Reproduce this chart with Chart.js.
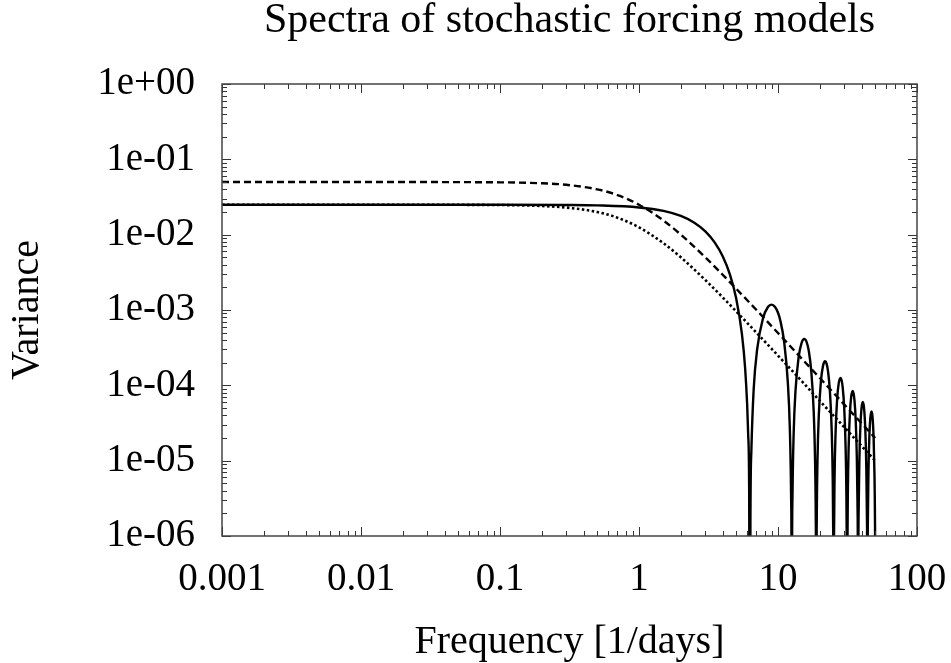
<!DOCTYPE html>
<html>
<head>
<meta charset="utf-8">
<script src="https://cdn.jsdelivr.net/npm/chart.js@4.4.1/dist/chart.umd.min.js"></script>
<style>
  html, body { margin: 0; padding: 0; background: #fff; }
  #wrap { width: 951px; height: 663px; }
</style>
</head>
<body>
<div id="wrap"><canvas id="c" width="951" height="663"></canvas></div>
<script>
// ---- data ----
const solidFreq = [
  0.001, 0.01, 0.1, 0.3, 0.5, 1, 1.5, 2, 2.5, 3, 3.5, 4, 4.5, 5, 5.5, 5.8, 6.0, 6.1, 6.2, 6.283,
  6.333, 6.433, 6.683, 7.083, 7.783, 8.483, 8.987, 9.5, 10.0, 10.366, 11.066, 11.766, 12.166, 12.416, 12.516, 12.566,
  12.616, 12.716, 12.966, 13.366, 14.066, 14.766, 15.45, 16.05, 16.65, 17.35, 18.05, 18.45, 18.70, 18.80, 18.85,
  18.90, 19.00, 19.25, 19.65, 20.35, 21.05, 21.808, 22.35, 22.933, 23.633, 24.333, 24.733, 24.983, 25.083, 25.133,
  25.183, 25.283, 25.533, 25.933, 26.633, 27.333, 28.132, 28.65, 29.216, 29.916, 30.616, 31.016, 31.266, 31.366, 31.416,
  31.466, 31.566, 31.816, 32.216, 32.916, 33.616, 34.442, 34.95, 35.499, 36.199, 36.899, 37.299, 37.549, 37.699,
  37.849, 38.099, 38.499, 39.199, 39.899, 40.742, 41.25, 41.782, 42.482, 43.182, 43.582, 43.832, 43.982,
  44.132, 44.382, 44.782, 45.482, 46.182, 47.036, 47.55, 48.066, 48.766, 49.466, 49.7, 49.9, 50.0
];
const solidVar = [
  0.025, 0.025, 0.02499, 0.02481, 0.02448, 0.02298, 0.02065, 0.01770, 0.01441, 0.01106, 0.00790, 0.005168, 0.00299, 0.001433, 4.82e-4, 1.70e-4, 5.53e-5, 2.25e-5, 4.5e-6, 1e-9,
  1.56e-6, 1.36e-5, 8.84e-5, 3.02e-4, 7.67e-4, 1.104e-3, 1.180e-3, 1.107e-3, 9.20e-4, 7.39e-4, 3.79e-4, 1.095e-4, 2.67e-5, 3.64e-6, 4.0e-7, 1e-9,
  3.93e-7, 3.47e-6, 2.348e-5, 8.49e-5, 2.348e-4, 3.642e-4, 4.12e-4, 3.769e-4, 2.865e-4, 1.544e-4, 4.655e-5, 1.16e-5, 1.606e-6, 1.77e-7, 1e-9,
  1.75e-7, 1.556e-6, 1.065e-5, 3.928e-5, 1.122e-4, 1.793e-4, 2.085e-4, 1.938e-4, 1.51e-4, 8.32e-5, 2.561e-5, 6.45e-6, 9.0e-7, 9.9e-8, 1e-9,
  9.86e-8, 8.78e-7, 6.05e-6, 2.255e-5, 6.55e-5, 1.063e-4, 1.257e-4, 1.176e-4, 9.305e-5, 5.19e-5, 1.618e-5, 4.1e-6, 5.74e-7, 6.35e-8, 1e-9,
  6.31e-8, 5.64e-7, 3.9e-6, 1.461e-5, 4.288e-5, 7.029e-5, 8.40e-5, 7.875e-5, 6.303e-5, 3.546e-5, 1.114e-5, 2.837e-6, 3.98e-7, 1e-9,
  3.92e-7, 2.719e-6, 1.023e-5, 3.024e-5, 4.989e-5, 6.01e-5, 5.634e-5, 4.55e-5, 2.575e-5, 8.13e-6, 2.078e-6, 2.92e-7, 1e-9,
  2.88e-7, 2.004e-6, 7.56e-6, 2.246e-5, 3.724e-5, 4.51e-5, 4.226e-5, 3.438e-5, 1.954e-5, 6.2e-6, 3.15e-6, 1.326e-6, 7.0e-7
];
const lorentzFreq = [0.001, 0.01, 0.1, 0.2, 0.3, 0.5, 0.7, 1, 1.5, 2, 3, 4, 5, 7, 10, 15, 20, 30, 40, 50];
const dashedVar = [0.05, 0.05, 0.0495, 0.0481, 0.0459, 0.04, 0.0336, 0.025, 0.0154, 0.01, 0.005, 0.00294, 0.00192, 0.001, 4.95e-4, 2.21e-4, 1.25e-4, 5.55e-5, 3.12e-5, 2.0e-5];
const dottedVar = [0.025, 0.025, 0.02475, 0.0240, 0.0229, 0.02, 0.0168, 0.0125, 0.0077, 0.005, 0.0025, 0.00147, 9.6e-4, 5.0e-4, 2.48e-4, 1.11e-4, 6.2e-5, 2.78e-5, 1.56e-5, 1.0e-5];

const xTickValues = [0.001, 0.01, 0.1, 1, 10, 100];
const xTickLabels = ['0.001', '0.01', '0.1', '1', '10', '100'];
const yTickValues = [1e-6, 1e-5, 1e-4, 1e-3, 1e-2, 1e-1, 1];
const yTickLabels = ['1e-06', '1e-05', '1e-04', '1e-03', '1e-02', '1e-01', '1e+00'];
const minorSteps = [2, 3, 4, 5, 6, 7, 8, 9];

const FONT = "'Liberation Serif', 'Times New Roman', 'DejaVu Serif', serif";
const toPts = (xs, ys) => xs.map((x, i) => ({x: x, y: ys[i]}));

function labelFor(values, labels, v) {
  for (let i = 0; i < values.length; i++) {
    if (Math.abs(Math.log10(v) - Math.log10(values[i])) < 1e-6) return labels[i];
  }
  return '';
}

const frameTicks = {
  id: 'frameTicks',
  afterDatasetsDraw(chart) {
    const {ctx, chartArea: a, scales: {x, y}} = chart;
    ctx.save();
    ctx.strokeStyle = '#333';
    ctx.lineWidth = 1;
    const seg = (x1, y1, x2, y2) => { ctx.beginPath(); ctx.moveTo(x1, y1); ctx.lineTo(x2, y2); ctx.stroke(); };
    xTickValues.forEach((dec, di) => {
      const mx = Math.round(x.getPixelForValue(dec)) + 0.5;
      seg(mx, a.bottom, mx, a.bottom - 9);
      seg(mx, a.top, mx, a.top + 9);
      if (di < xTickValues.length - 1) {
        minorSteps.forEach(s => {
          const p = Math.round(x.getPixelForValue(dec * s)) + 0.5;
          seg(p, a.bottom, p, a.bottom - 5);
          seg(p, a.top, p, a.top + 5);
        });
      }
    });
    yTickValues.forEach((dec, di) => {
      const py = Math.round(y.getPixelForValue(dec)) + 0.5;
      seg(a.left, py, a.left + 9, py);
      seg(a.right, py, a.right - 9, py);
      if (di < yTickValues.length - 1) {
        minorSteps.forEach(s => {
          const p = Math.round(y.getPixelForValue(dec * s)) + 0.5;
          seg(a.left, p, a.left + 5, p);
          seg(a.right, p, a.right - 5, p);
        });
      }
    });
    ctx.lineWidth = 1.5;
    ctx.strokeStyle = '#444';
    ctx.strokeRect(a.left, a.top, a.right - a.left, a.bottom - a.top);
    ctx.restore();
  }
};

new Chart(document.getElementById('c'), {
  type: 'line',
  data: {
    datasets: [
      {
        label: 'solid',
        data: toPts(solidFreq, solidVar),
        borderColor: '#000',
        borderWidth: 2.4,
        pointRadius: 0,
        cubicInterpolationMode: 'monotone',
        fill: false
      },
      {
        label: 'dashed',
        data: toPts(lorentzFreq, dashedVar),
        borderColor: '#000',
        borderWidth: 2.4,
        borderDash: [7, 4],
        pointRadius: 0,
        cubicInterpolationMode: 'monotone',
        fill: false
      },
      {
        label: 'dotted',
        data: toPts(lorentzFreq, dottedVar),
        borderColor: '#000',
        borderWidth: 2.6,
        borderDash: [2.5, 2.5],
        pointRadius: 0,
        cubicInterpolationMode: 'monotone',
        fill: false
      }
    ]
  },
  options: {
    responsive: false,
    animation: false,
    layout: { padding: { top: 0, right: 34, bottom: 0, left: 0 } },
    plugins: {
      legend: { display: false },
      tooltip: { enabled: false },
      title: {
        display: true,
        text: 'Spectra of stochastic forcing models',
        fullSize: false,
        color: '#000',
        font: { family: FONT, size: 42, weight: 'normal', lineHeight: 1 },
        padding: { top: 0, bottom: 42 }
      }
    },
    scales: {
      x: {
        type: 'logarithmic',
        min: 0.001,
        max: 100,
        grid: { display: false, drawTicks: false },
        border: { display: false },
        afterBuildTicks: (s) => { s.ticks = xTickValues.map(v => ({value: v})); },
        afterFit: (s) => { s.height = 127; s.paddingRight = 34; s.paddingLeft = 0; },
        ticks: {
          autoSkip: false,
          maxRotation: 0,
          padding: 20,
          color: '#000',
          font: { family: FONT, size: 39 },
          callback: (v) => labelFor(xTickValues, xTickLabels, v)
        },
        title: {
          display: true,
          text: 'Frequency [1/days]',
          color: '#000',
          font: { family: FONT, size: 40, lineHeight: 1 },
          padding: { top: 0, bottom: 1 }
        }
      },
      y: {
        type: 'logarithmic',
        min: 1e-6,
        max: 1,
        grid: { display: false, drawTicks: false },
        border: { display: false },
        afterBuildTicks: (s) => { s.ticks = yTickValues.map(v => ({value: v})); },
        afterFit: (s) => { s.width = 222; },
        ticks: {
          autoSkip: false,
          padding: 27,
          color: '#000',
          font: { family: FONT, size: 39 },
          callback: (v) => labelFor(yTickValues, yTickLabels, v)
        },
        title: {
          display: true,
          text: 'Variance',
          color: '#000',
          font: { family: FONT, size: 40, lineHeight: 1 },
          padding: { top: 7, bottom: 0 }
        }
      }
    }
  },
  plugins: [frameTicks]
});
</script>
</body>
</html>
